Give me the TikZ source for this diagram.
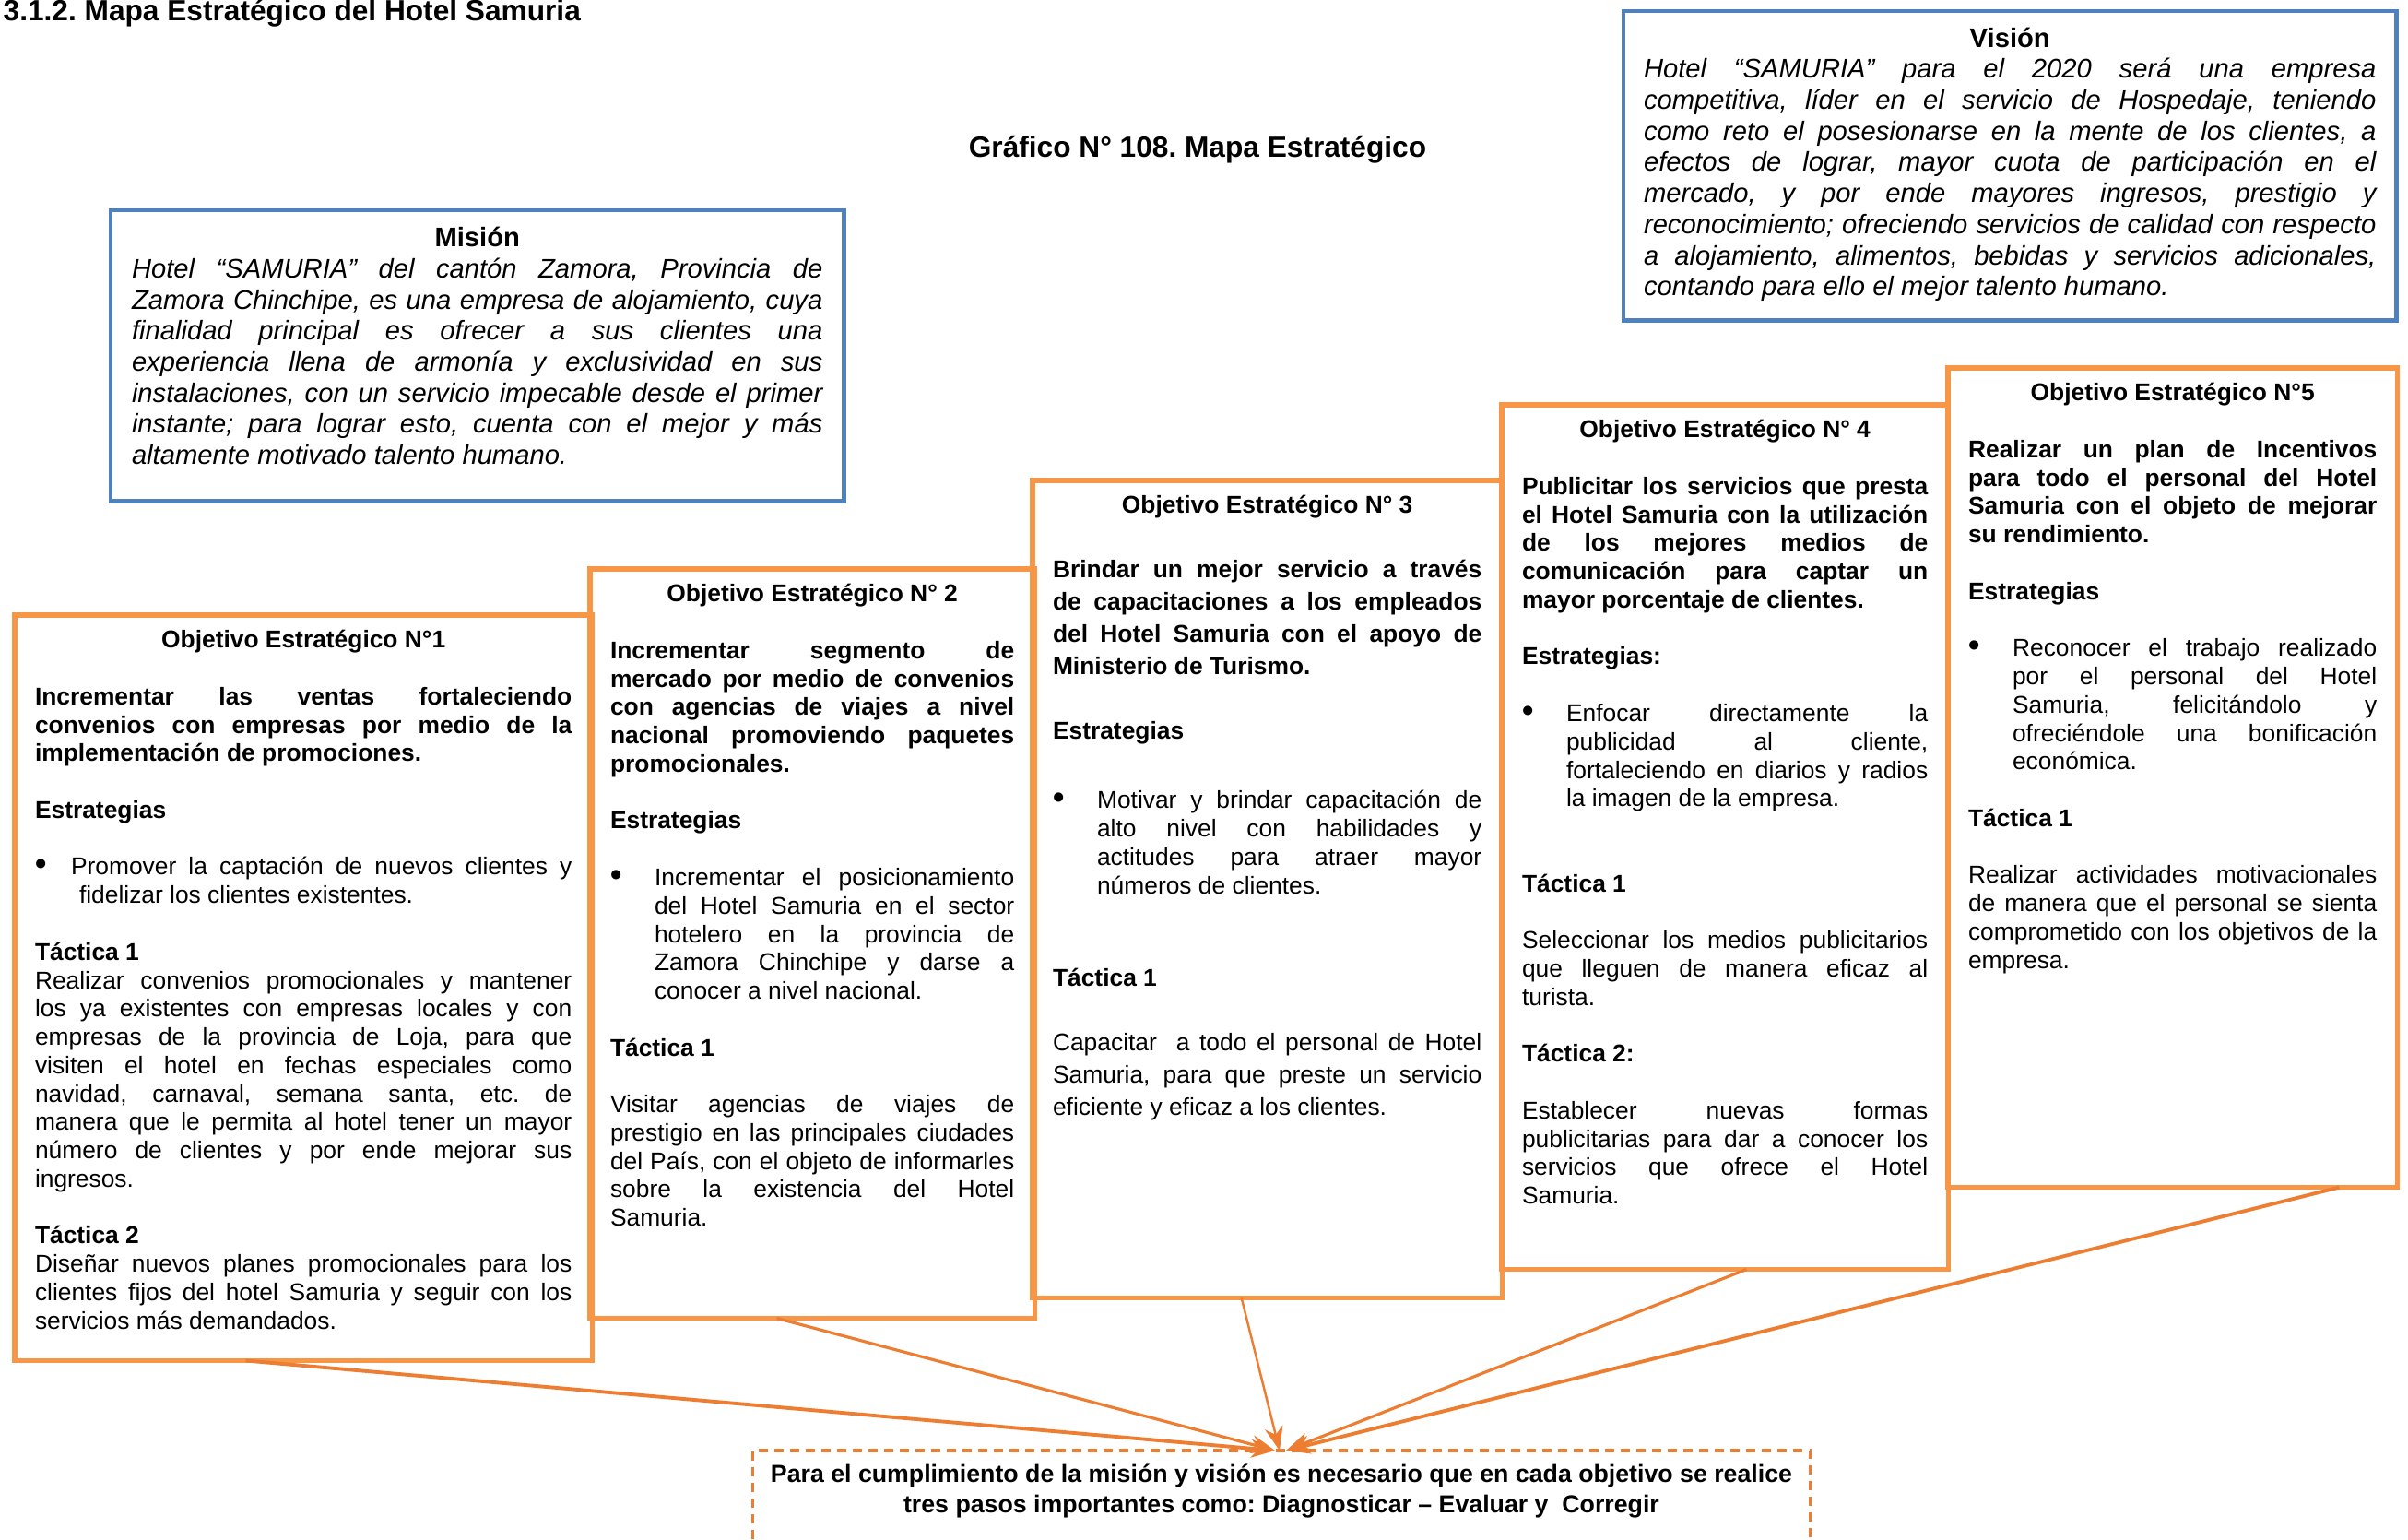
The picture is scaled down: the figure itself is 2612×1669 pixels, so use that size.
\documentclass[tikz,border=0pt]{standalone}
\usepackage{fontspec}
\setmainfont{Liberation Sans}
\usetikzlibrary{arrows.meta,calc}

\definecolor{ideablue}{HTML}{4F81BD}
\definecolor{objorange}{HTML}{F79646}
\definecolor{arroworange}{HTML}{ED7D31}

\hbadness=10000
\vbadness=10000
\frenchspacing

% line helpers: every line of a box is set on its own
\newlength{\bulind}
\setlength{\bulind}{0.48cm}
\newcommand{\gap}[1][1]{\vskip#1\baselineskip\relax}
\newcommand{\ttl}[1]{\hbox to\hsize{\hfil\bfseries\upshape #1\hfil}}
\newcommand{\hd}[1]{\hbox to\hsize{\bfseries #1\hfil}}
\newcommand{\jline}[1]{\hbox to\hsize{#1}}
\newcommand{\lline}[1]{\hbox to\hsize{#1\hfil}}
\newcommand{\bdot}{{\fontsize{10}{10}\selectfont\bfseries •}}
\newcommand{\bline}[2][\bulind]{\hbox to\hsize{\hbox to#1{\bdot\hfil}#2}}
\newcommand{\iline}[1]{\hbox to\hsize{\hskip\bulind #1}}
\newcommand{\ilast}[1]{\hbox to\hsize{\hskip\bulind #1\hfil}}
\newcommand{\boxtext}[3]{\vbox to#1{\hsize=#2\relax\hbox{}#3\vfil}}

\tikzset{
  headtext/.style={inner sep=0pt, font={\fontsize{9}{11}\selectfont\bfseries}},
  ideabox/.style={draw=ideablue, line width=1.4pt, anchor=north west, outer sep=0pt,
    inner xsep=0.22cm, font={\fontsize{8.3}{9.58}\selectfont\itshape}},
  objbox/.style={draw=objorange, line width=1.5pt, anchor=north west, outer sep=0pt,
    inner xsep=0.22cm, inner ysep=0.05cm, font={\fontsize{7.5}{8.75}\selectfont}},
  notetext/.style={anchor=north, minimum width=11.46cm, inner xsep=0pt, outer sep=0pt,
    inner ysep=0.15cm, align=center, font={\fontsize{7.6}{9.4}\selectfont\bfseries}},
  dashbox/.style={draw=arroworange, line width=0.9pt, dash pattern=on 0.1cm off 0.07cm},
  toarrow/.style={draw=arroworange, -{Stealth[length=2.6mm, width=2mm]}}
}

\begin{document}
\begin{tikzpicture}[x=0.01cm, y=-0.01cm]
  \useasboundingbox (0,0) rectangle (2612,1669);

  % headings
  \node[headtext, anchor=base west] (secttl) at (3,22)
    {3.1.2. Mapa Estratégico del Hotel Samuria};
  \node[headtext, anchor=base] (figttl) at (1299,170)
    {Gráfico N° 108. Mapa Estratégico};

  % mission -- blue frame, left
  \node[ideabox, inner xsep=0.23cm, inner ysep=0.06cm] (mision) at (120,228)
    {\boxtext{3.03cm}{7.49cm}{%
      \ttl{Misión}
      \jline{Hotel “SAMURIA” del cantón Zamora, Provincia de}
      \jline{Zamora Chinchipe, es una empresa de alojamiento, cuya}
      \jline{finalidad principal es ofrecer a sus clientes una}
      \jline{experiencia llena de armonía y exclusividad en sus}
      \jline{instalaciones, con un servicio impecable desde el primer}
      \jline{instante; para lograr esto, cuenta con el mejor y más}
      \lline{altamente motivado talento humano.}}};

  % vision -- blue frame, top right
  \node[ideabox, inner ysep=0.055cm] (vision) at (1761,12)
    {\boxtext{3.24cm}{7.94cm}{%
      \ttl{Visión}
      \jline{Hotel “SAMURIA” para el 2020 será una empresa}
      \jline{competitiva, líder en el servicio de Hospedaje, teniendo}
      \jline{como reto el posesionarse en la mente de los clientes, a}
      \jline{efectos de lograr, mayor cuota de participación en el}
      \jline{mercado, y por ende mayores ingresos, prestigio y}
      \jline{reconocimiento; ofreciendo servicios de calidad con respecto}
      \jline{a alojamiento, alimentos, bebidas y servicios adicionales,}
      \lline{contando para ello el mejor talento humano.}}};

  % objective 1 -- lowest step
  \node[objbox] (obj1) at (16,667)
    {\boxtext{7.98cm}{5.82cm}{%
      \ttl{Objetivo Estratégico N°1}
      \gap
      \jline{\bfseries Incrementar las ventas fortaleciendo}
      \jline{\bfseries convenios con empresas por medio de la}
      \lline{\bfseries implementación de promociones.}
      \gap
      \hd{Estrategias}
      \gap
      \bline[0.39cm]{Promover la captación de nuevos clientes y}
      \ilast{fidelizar los clientes existentes.}
      \gap
      \hd{Táctica 1}
      \jline{Realizar convenios promocionales y mantener}
      \jline{los ya existentes con empresas locales y con}
      \jline{empresas de la provincia de Loja, para que}
      \jline{visiten el hotel en fechas especiales como}
      \jline{navidad, carnaval, semana santa, etc. de}
      \jline{manera que le permita al hotel tener un mayor}
      \jline{número de clientes y por ende mejorar sus}
      \lline{ingresos.}
      \gap
      \hd{Táctica 2}
      \jline{Diseñar nuevos planes promocionales para los}
      \jline{clientes fijos del hotel Samuria y seguir con los}
      \lline{servicios más demandados.}}};

  % objective 2
  \node[objbox] (obj2) at (640,617)
    {\boxtext{8.02cm}{4.38cm}{%
      \ttl{Objetivo Estratégico N° 2}
      \gap
      \jline{\bfseries Incrementar segmento de}
      \jline{\bfseries mercado por medio de convenios}
      \jline{\bfseries con agencias de viajes a nivel}
      \jline{\bfseries nacional promoviendo paquetes}
      \lline{\bfseries promocionales.}
      \gap
      \hd{Estrategias}
      \gap
      \bline{Incrementar el posicionamiento}
      \iline{del Hotel Samuria en el sector}
      \iline{hotelero en la provincia de}
      \iline{Zamora Chinchipe y darse a}
      \ilast{conocer a nivel nacional.}
      \gap
      \hd{Táctica 1}
      \gap
      \jline{Visitar agencias de viajes de}
      \jline{prestigio en las principales ciudades}
      \jline{del País, con el objeto de informarles}
      \jline{sobre la existencia del Hotel}
      \lline{Samuria.}}};

  % objective 3 -- wider line spacing
  \node[objbox, inner ysep=0pt, font={\fontsize{7.5}{9.96}\selectfont}] (obj3) at (1120,521)
    {\boxtext{8.86cm}{4.65cm}{%
      \ttl{Objetivo Estratégico N° 3}
      \gap
      \jline{\bfseries Brindar un mejor servicio a través}
      \jline{\bfseries de capacitaciones a los empleados}
      \jline{\bfseries del Hotel Samuria con el apoyo de}
      \lline{\bfseries Ministerio de Turismo.}
      \gap
      \hd{Estrategias}
      \baselineskip=8.82pt \vskip0.44cm
      \bline{Motivar y brindar capacitación de}
      \iline{alto nivel con habilidades y}
      \iline{actitudes para atraer mayor}
      \ilast{números de clientes.}
      \baselineskip=9.96pt \vskip0.65cm
      \hd{Táctica 1}
      \gap
      \jline{Capacitar\ \ a todo el personal de Hotel}
      \jline{Samuria, para que preste un servicio}
      \lline{eficiente y eficaz a los clientes.}}};

  % objective 4
  \node[objbox] (obj4) at (1629,439)
    {\boxtext{9.27cm}{4.40cm}{%
      \ttl{Objetivo Estratégico N° 4}
      \gap
      \jline{\bfseries Publicitar los servicios que presta}
      \jline{\bfseries el Hotel Samuria con la utilización}
      \jline{\bfseries de los mejores medios de}
      \jline{\bfseries comunicación para captar un}
      \lline{\bfseries mayor porcentaje de clientes.}
      \gap
      \hd{Estrategias:}
      \gap
      \bline{Enfocar directamente la}
      \iline{publicidad al cliente,}
      \iline{fortaleciendo en diarios y radios}
      \ilast{la imagen de la empresa.}
      \gap[2]
      \hd{Táctica 1}
      \gap
      \jline{Seleccionar los medios publicitarios}
      \jline{que lleguen de manera eficaz al}
      \lline{turista.}
      \gap
      \hd{Táctica 2:}
      \gap
      \jline{Establecer nuevas formas}
      \jline{publicitarias para dar a conocer los}
      \jline{servicios que ofrece el Hotel}
      \lline{Samuria.}}};

  % objective 5 -- highest step
  \node[objbox] (obj5) at (2113,399)
    {\boxtext{8.78cm}{4.43cm}{%
      \ttl{Objetivo Estratégico N°5}
      \gap
      \jline{\bfseries Realizar un plan de Incentivos}
      \jline{\bfseries para todo el personal del Hotel}
      \jline{\bfseries Samuria con el objeto de mejorar}
      \lline{\bfseries su rendimiento.}
      \gap
      \hd{Estrategias}
      \gap
      \bline{Reconocer el trabajo realizado}
      \iline{por el personal del Hotel}
      \iline{Samuria, felicitándolo y}
      \iline{ofreciéndole una bonificación}
      \ilast{económica.}
      \gap
      \hd{Táctica 1}
      \gap
      \jline{Realizar actividades motivacionales}
      \jline{de manera que el personal se sienta}
      \jline{comprometido con los objetivos de la}
      \lline{empresa.}}};

  % closing note -- dashed frame runs off the bottom
  \node[notetext] (pasos) at (1390,1573)
    {Para el cumplimiento de la misión y visión es necesario que en cada objetivo se realice\\
     tres pasos importantes como: Diagnosticar – Evaluar y\ \ Corregir};
  \coordinate (pgbot) at (0,1669);
  \draw[dashbox] (pasos.north west |- pgbot) -- (pasos.north west)
    -- (pasos.north east) -- (pasos.north east |- pgbot);

  % every objective feeds the note
  \draw[toarrow, line width=1.1pt] ($(obj1.south west)!0.40!(obj1.south east)$) -- ($(pasos.north)+(-7,0)$);
  \draw[toarrow, line width=0.9pt] ($(obj2.south west)!0.42!(obj2.south east)$) -- ($(pasos.north)+(-7,0)$);
  \draw[toarrow, line width=0.7pt] ($(obj3.south west)!0.445!(obj3.south east)$) -- ($(pasos.north)+(-2,0)$);
  \draw[toarrow, line width=0.9pt] ($(obj4.south west)!0.548!(obj4.south east)$) -- ($(pasos.north)+(5,0)$);
  \draw[toarrow, line width=1.1pt] ($(obj5.south west)!0.871!(obj5.south east)$) -- ($(pasos.north)+(5,0)$);

\end{tikzpicture}
\end{document}
